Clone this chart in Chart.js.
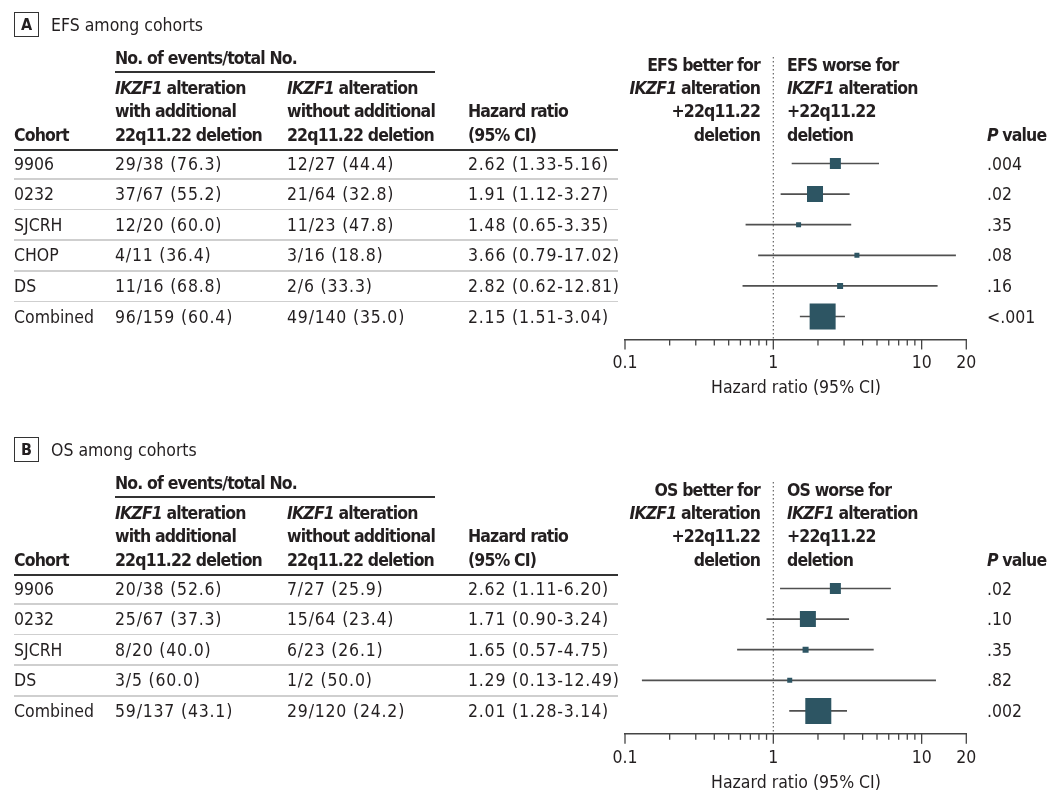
<!DOCTYPE html>
<html lang="en">
<head>
<meta charset="utf-8">
<title>EFS and OS among cohorts</title>
<script src="https://cdn.jsdelivr.net/npm/chart.js@4.4.1/dist/chart.umd.min.js"></script>
<style>
  html, body { margin: 0; padding: 0; background: #fff; }
  body {
    width: 1054px; height: 797px; position: relative; overflow: hidden;
    font-family: "DejaVu Sans Condensed", "DejaVu Sans", sans-serif;
    font-stretch: condensed; color: #231f20; font-size: 17.5px;
  }
  .t { position: absolute; white-space: nowrap; line-height: 20px; }
  .b { font-weight: bold; letter-spacing: -0.85px; }
  .n { letter-spacing: 0.8px; }
  .r { transform: translateX(-100%); }
  .c { transform: translateX(-50%); }
  .rule { position: absolute; }
  .tag {
    position: absolute; width: 23px; height: 23px; border: 1.5px solid #333;
    font-weight: bold; text-align: center; line-height: 23px; font-size: 16px;
  }
  canvas { position: absolute; left: 0; }
</style>
</head>
<body>
<canvas id="efsChart" width="1054" height="400" style="top:0"></canvas>
<canvas id="osChart" width="1054" height="372" style="top:425px"></canvas>
<script>
// ---- data: EFS ----
const efsCohorts = ["9906", "0232", "SJCRH", "CHOP", "DS", "Combined"];
const efsWith = ["29/38 (76.3)", "37/67 (55.2)", "12/20 (60.0)", "4/11 (36.4)", "11/16 (68.8)", "96/159 (60.4)"];
const efsWithout = ["12/27 (44.4)", "21/64 (32.8)", "11/23 (47.8)", "3/16 (18.8)", "2/6 (33.3)", "49/140 (35.0)"];
const efsHR = [2.62, 1.91, 1.48, 3.66, 2.82, 2.15];
const efsLow = [1.33, 1.12, 0.65, 0.79, 0.62, 1.51];
const efsHigh = [5.16, 3.27, 3.35, 17.02, 12.81, 3.04];
const efsP = [".004", ".02", ".35", ".08", ".16", "<.001"];

// ---- data: OS ----
const osCohorts = ["9906", "0232", "SJCRH", "DS", "Combined"];
const osWith = ["20/38 (52.6)", "25/67 (37.3)", "8/20 (40.0)", "3/5 (60.0)", "59/137 (43.1)"];
const osWithout = ["7/27 (25.9)", "15/64 (23.4)", "6/23 (26.1)", "1/2 (50.0)", "29/120 (24.2)"];
const osHR = [2.62, 1.71, 1.65, 1.29, 2.01];
const osLow = [1.11, 0.90, 0.57, 0.13, 1.28];
const osHigh = [6.20, 3.24, 4.75, 12.49, 3.14];
const osP = [".02", ".10", ".35", ".82", ".002"];

// axis ticks (log scale)
const axisTicks = [0.1, 0.2, 0.3, 0.4, 0.5, 0.6, 0.7, 0.8, 0.9, 1, 2, 3, 4, 5, 6, 7, 8, 9, 10, 20];
const axisLabels = [0.1, 1, 10, 20];

// square side in px (study weight)
const efsBox = [11, 16, 5, 5, 6, 26];
const osBox = [11, 16, 6, 5, 26];

const ROW0 = 163.5, ROWH = 30.6, PLOT_TOP = 57, AXIS_H = 60;
const INK = '#231f20', BOX = '#2d5563', CI = '#505050';

Chart.defaults.font.family = '"DejaVu Sans Condensed", "DejaVu Sans", sans-serif';
Chart.defaults.font.size = 17.5;
Chart.defaults.color = INK;

function put(html, x, y, cls, size) {
  const d = document.createElement('div');
  d.className = 't ' + (cls || '');
  d.innerHTML = html;
  d.style.left = x + 'px';
  d.style.top = (y - 10) + 'px';
  if (size) d.style.fontSize = size + 'px';
  document.body.appendChild(d);
}

function rule(x1, x2, y, w, color) {
  const d = document.createElement('div');
  d.className = 'rule';
  d.style.left = x1 + 'px';
  d.style.width = (x2 - x1) + 'px';
  d.style.top = (y - w / 2) + 'px';
  d.style.height = w + 'px';
  d.style.background = color;
  document.body.appendChild(d);
}

const forestDecor = {
  id: 'forestDecor',
  beforeDatasetsDraw(chart) {
    const {ctx, chartArea, scales: {x}} = chart;
    const px = x.getPixelForValue(1);
    ctx.save();
    ctx.strokeStyle = '#666';
    ctx.lineWidth = 1.2;
    ctx.setLineDash([1.5, 2.5]);
    ctx.beginPath();
    ctx.moveTo(px, chartArea.top);
    ctx.lineTo(px, chartArea.bottom);
    ctx.stroke();
    ctx.restore();
  },
  afterDraw(chart) {
    const {ctx, chartArea, scales: {x}} = chart;
    ctx.save();
    ctx.strokeStyle = '#444';
    ctx.lineWidth = 1.3;
    x.ticks.forEach(t => {
      const p = x.getPixelForValue(t.value);
      const len = axisLabels.includes(t.value) ? 10 : 6;
      ctx.beginPath();
      ctx.moveTo(p, chartArea.bottom);
      ctx.lineTo(p, chartArea.bottom + len);
      ctx.stroke();
    });
    ctx.restore();
  }
};

function panel(off, letter, title, outcome, cohorts, withArr, withoutArr, hr, lo, hi, pv, box, canvasId) {
  // header
  const tag = document.createElement('div');
  tag.className = 'tag';
  tag.textContent = letter;
  tag.style.left = '14px';
  tag.style.top = (12 + off) + 'px';
  document.body.appendChild(tag);
  put(title, 51, 25 + off, '', 17.5);

  put('No. of events/total No.', 115, 58 + off, 'b');
  rule(115, 435, 72 + off, 1.5, '#333');
  const hy = [88, 111, 135].map(v => v + off);
  ['<i>IKZF1</i> alteration', 'with additional', '22q11.22 deletion'].forEach((s, i) => put(s, 115, hy[i], 'b'));
  ['<i>IKZF1</i> alteration', 'without additional', '22q11.22 deletion'].forEach((s, i) => put(s, 287, hy[i], 'b'));
  put('Cohort', 14, hy[2], 'b');
  put('Hazard ratio', 468, hy[1], 'b');
  put('(95% CI)', 468, hy[2], 'b');
  const gy = [65 + off].concat(hy);
  [outcome + ' better for', '<i>IKZF1</i> alteration', '+22q11.22', 'deletion'].forEach((s, i) => put(s, 760, gy[i], 'b r'));
  [outcome + ' worse for', '<i>IKZF1</i> alteration', '+22q11.22', 'deletion'].forEach((s, i) => put(s, 787, gy[i], 'b'));
  put('<i>P</i> value', 987, hy[2], 'b');
  rule(14, 618, 150 + off, 2, '#333');

  // table rows
  cohorts.forEach((c, i) => {
    const y = ROW0 + i * ROWH + off;
    put(c, 14, y);
    put(withArr[i], 115, y, 'n');
    put(withoutArr[i], 287, y, 'n');
    put(hr[i].toFixed(2) + ' (' + lo[i].toFixed(2) + '-' + hi[i].toFixed(2) + ')', 468, y, 'n');
    put(pv[i], 987, y);
    if (i < cohorts.length - 1) rule(14, 618, y + 15.5, 1.5, '#cfcfcf');
  });

  // forest plot
  const n = cohorts.length;
  const yMin = (PLOT_TOP - ROW0) / ROWH;
  const yMax = n - 0.25;
  const canvas = document.getElementById(canvasId);
  const plotH = (yMax - yMin) * ROWH;
  const padBottom = canvas.height - PLOT_TOP - AXIS_H - plotH;
  put('Hazard ratio (95% CI)', 796, PLOT_TOP + plotH + 48 + off, 'c');

  const ciData = [];
  lo.forEach((l, i) => {
    ciData.push({x: l, y: i}, {x: hi[i], y: i}, {x: hi[i], y: null});
  });

  new Chart(canvas, {
    type: 'scatter',
    data: {
      datasets: [{
        data: hr.map((v, i) => ({x: v, y: i})),
        pointStyle: 'rect',
        pointRadius: box.map(s => s / Math.SQRT2),
        backgroundColor: BOX,
        borderWidth: 0,
        order: 0
      }, {
        data: ciData,
        showLine: true,
        spanGaps: false,
        pointRadius: 0,
        borderColor: CI,
        borderWidth: 1.7,
        order: 1
      }]
    },
    options: {
      responsive: false,
      animation: false,
      events: [],
      layout: {padding: {left: 625, right: 1054 - 966.3, top: PLOT_TOP, bottom: padBottom}},
      plugins: {legend: {display: false}, tooltip: {enabled: false}},
      scales: {
        x: {
          type: 'logarithmic',
          min: 0.1,
          max: 20,
          afterBuildTicks: s => { s.ticks = axisTicks.map(v => ({value: v})); },
          afterFit: s => { s.height = AXIS_H; },
          grid: {display: false, drawTicks: false},
          border: {display: true, color: '#444', width: 1.5},
          ticks: {
            autoSkip: false,
            maxRotation: 0,
            padding: 14,
            color: INK,
            callback: v => axisLabels.includes(v) ? String(v) : ''
          }
        },
        y: {
          type: 'linear',
          reverse: true,
          min: yMin,
          max: yMax,
          display: false
        }
      }
    },
    plugins: [forestDecor]
  });
}

panel(0, 'A', 'EFS among cohorts', 'EFS', efsCohorts, efsWith, efsWithout, efsHR, efsLow, efsHigh, efsP, efsBox, 'efsChart');
panel(425, 'B', 'OS among cohorts', 'OS', osCohorts, osWith, osWithout, osHR, osLow, osHigh, osP, osBox, 'osChart');
</script>
</body>
</html>
